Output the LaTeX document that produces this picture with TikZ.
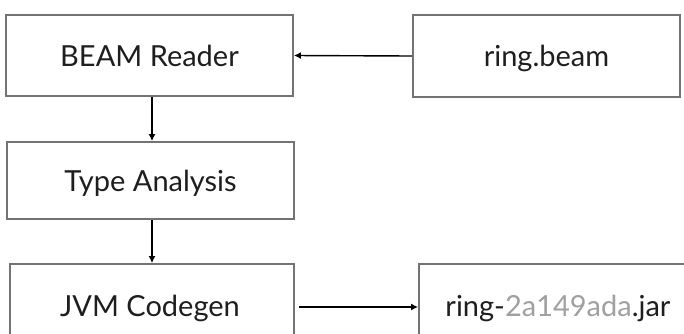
\documentclass[tikz,border=0pt]{standalone}
\usepackage{fontspec}
\setmainfont{Lato}
\usetikzlibrary{arrows.meta}
\definecolor{boxline}{RGB}{115,115,115}
\definecolor{txt}{RGB}{30,30,30}
\definecolor{hash}{RGB}{160,160,160}
\tikzset{
  stagebox/.style={draw=boxline, line width=1.8pt, fill=white, inner sep=0pt,
    text=txt, font=\fontsize{29}{34}\selectfont, text height=21pt, text depth=0pt},
  labeltext/.style={text=txt, font=\fontsize{29}{34}\selectfont, inner sep=0pt,
    text height=21pt, text depth=0pt},
  flow/.style={draw=black, line width=1.4pt, -{Latex[length=7pt,width=7pt]}}
}
\begin{document}
\begin{tikzpicture}[x=1pt,y=-1pt]
\useasboundingbox (0,0) rectangle (684,333);
\clip (0,0) rectangle (684,333);
\node[stagebox, minimum width=287pt, minimum height=81pt] (beam) at (149.5,55.5) {BEAM Reader};
\node[stagebox, minimum width=267pt, minimum height=82pt] (src) at (546.5,56) {ring.beam};
\node[stagebox, minimum width=287pt, minimum height=77pt] (type) at (150.5,180.5) {Type Analysis};
\node[stagebox, minimum width=284pt, minimum height=80pt] (jvm) at (152,304) {};
\node[stagebox, minimum width=267pt, minimum height=80pt] (jar) at (552.5,304) {};
\node[labeltext] (jvmtext) at (150,306) {JVM Codegen};
\node[labeltext] (jartext) at (558,306) {ring-\textcolor{hash}{2a149ada}.jar};
\coordinate (ax) at (152,0);
\draw[flow] (src.west) -- (beam.east);
\draw[flow] (ax |- beam.south) -- (ax |- type.north);
\draw[flow] (ax |- type.south) -- (ax |- jvm.north);
\draw[flow, shorten <=4pt] (jvm.east |- 0,307) -- (jar.west |- 0,307);
\end{tikzpicture}
\end{document}
